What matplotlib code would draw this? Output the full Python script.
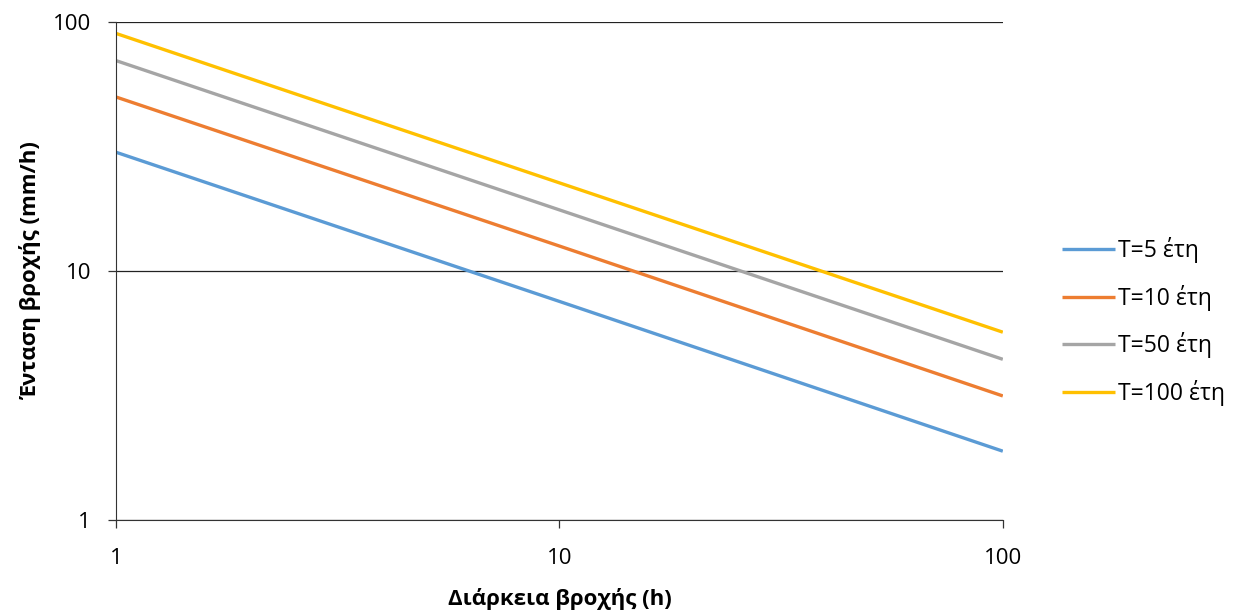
import matplotlib.pyplot as plt
from matplotlib.ticker import FixedLocator, NullLocator, FixedFormatter

plt.rcParams['font.family'] = ['Open Sans', 'DejaVu Sans']

# rainfall duration (h) and intensity (mm/h) per return period
durations = [1, 10, 100]
i_t5 = [30, 7.55, 1.89]
i_t10 = [50, 12.6, 3.15]
i_t50 = [70, 17.6, 4.42]
i_t100 = [90, 22.6, 5.68]
labels = ['T=5 έτη', 'T=10 έτη', 'T=50 έτη', 'T=100 έτη']
colors = ['#5B9BD5', '#ED7D31', '#A5A5A5', '#FFC000']

fig = plt.figure(figsize=(12.35, 6.1), dpi=100)
ax = fig.add_axes([0.0939, 0.1475, 0.812 - 0.0939, 0.9639 - 0.1475])

for ys, lab, c in zip([i_t5, i_t10, i_t50, i_t100], labels, colors):
    ax.plot(durations, ys, color=c, lw=2.4, label=lab, solid_capstyle='butt')

ax.set_xscale('log')
ax.set_yscale('log')
ax.set_xlim(1, 100)
ax.set_ylim(1, 100)

ax.xaxis.set_major_locator(FixedLocator([1, 10, 100]))
ax.xaxis.set_major_formatter(FixedFormatter(['1', '10', '100']))
ax.xaxis.set_minor_locator(NullLocator())
ax.yaxis.set_major_locator(FixedLocator([1, 10, 100]))
ax.yaxis.set_major_formatter(FixedFormatter(['1', '10', '100']))
ax.yaxis.set_minor_locator(NullLocator())

ax.yaxis.grid(True, color='#222222', lw=0.9)
ax.set_axisbelow(True)
for s in ['top', 'right']:
    ax.spines[s].set_visible(False)
ax.spines['left'].set_color('#333333')
ax.spines['bottom'].set_color('#333333')
ax.tick_params(axis='both', which='major', length=6, width=0.9, color='#333333',
               labelsize=16)
ax.tick_params(axis='y', pad=12)
ax.tick_params(axis='x', pad=14)

ax.set_xlabel('Διάρκεια βροχής (h)', fontsize=16, fontweight='bold', labelpad=14)
ax.set_ylabel('Ένταση βροχής (mm/h)', fontsize=16, fontweight='bold', labelpad=8)

fig.legend(loc='center left', bbox_to_anchor=(0.8596, 0.473), frameon=False,
           fontsize=16.5, handlelength=2.35, handletextpad=0.1, labelspacing=0.95,
           borderaxespad=0, borderpad=0)

fig.savefig('out.png', dpi=100)
